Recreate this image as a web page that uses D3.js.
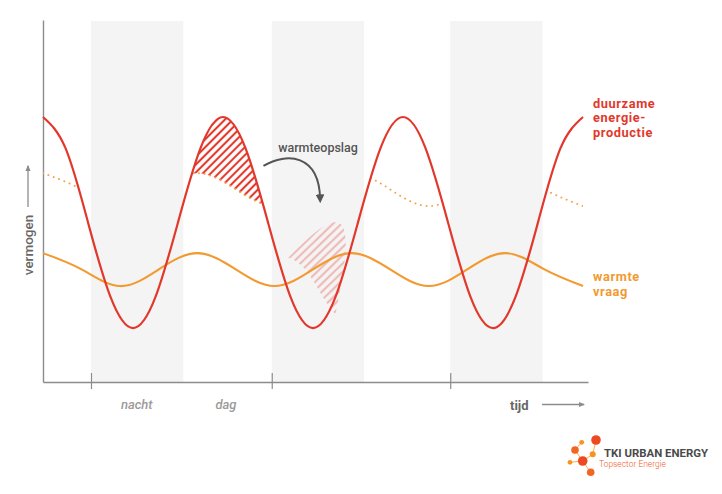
<!DOCTYPE html>
<html><head><meta charset="utf-8">
<script src="https://cdn.jsdelivr.net/npm/d3@7/dist/d3.min.js"></script>
<style>
body{margin:0;background:#fff}
svg{display:block}
text{font-family:Roboto,"Liberation Sans",Arial,sans-serif}
</style>
</head><body>
<svg id="chart" width="722" height="494"></svg>
<script>
// ---------- DATA (time in hours, vermogen in arbitrary units 0-100) ----------
const redTime   = [0,3,6,9,12,15,18,21,24,27,30,33,36,39,42,45,48,51,54,57,60,63,66,69,72];
const redValues = [73.2,64.6,44.1,23.5,14.9,23.5,44.1,64.6,
                   73.2,64.6,44.1,23.5,14.9,23.5,44.1,64.6,
                   73.2,64.6,44.1,23.5,14.9,23.5,44.1,64.6,73.2];

const orangeTime   = [0,5.14,10.29,15.43,20.57,25.71,30.86,36,41.14,46.29,51.43,56.57,61.71,66.86,72];
const orangeValues = [35.6,31.1,26.5,31.1,35.6,31.1,26.5,31.1,35.6,31.1,26.5,31.1,35.6,31.1,26.5];
const dottedValues = [57.7,53.2,48.6,53.2,57.7,53.2,48.6,53.2,57.7,53.2,48.6,53.2,57.7,53.2,48.6];

const nightStart = [6.4,30.5,54.3];
const nightEnd   = [18.7,42.8,66.6];
const tickHours  = [6.4,30.5,54.3];
const periodLabels = ["nacht","dag"];
const periodCenters = [12.5,24.4];

const seriesLabels = [["duurzame","energie-","productie"],["warmte","vraag"]];
const storageLabel = "warmteopslag";
const yLabel = "vermogen";
const xLabel = "tijd";

// ---------- SETUP ----------
const svg = d3.select("#chart");
const x = d3.scaleLinear().domain([0,72]).range([43,583]);
const y = d3.scaleLinear().domain([0,100]).range([382,20]);

const RED = "#e2382c", ORANGE = "#f29a30", AXIS = "#8c8c8c", GREY = "#666";

const redPts = redTime.map((t,i)=>[t,redValues[i]]);
const orPts = orangeTime.map((t,i)=>[t,orangeValues[i]]);
const dotPts = orangeTime.map((t,i)=>[t,dottedValues[i]]);

const line = d3.line().x(d=>x(d[0])).y(d=>y(d[1])).curve(d3.curveNatural);
const belowArea = d3.area().x(d=>x(d[0])).y0(y(-20)).y1(d=>y(d[1])).curve(d3.curveNatural);
const aboveArea = d3.area().x(d=>x(d[0])).y0(y(120)).y1(d=>y(d[1])).curve(d3.curveNatural);

const defs = svg.append("defs");
defs.append("clipPath").attr("id","cBelowRed").append("path").attr("d",belowArea(redPts));
defs.append("clipPath").attr("id","cAboveDot").append("path").attr("d",aboveArea(dotPts));

function hatch(id, rot, color, op, size, w){
  const p = defs.append("pattern").attr("id",id).attr("patternUnits","userSpaceOnUse")
    .attr("width",size).attr("height",size).attr("patternTransform",`rotate(${rot})`);
  p.append("line").attr("x1",size/2).attr("x2",size/2).attr("y1",-1).attr("y2",size+1)
    .attr("stroke",color).attr("stroke-opacity",op).attr("stroke-width",w);
}
hatch("h1",45,RED,1,5.6,2.1);
hatch("h2",19,RED,0.3,6.2,2.3);

// markers
defs.append("marker").attr("id","arrDark").attr("viewBox","0 0 10 10").attr("refX",5).attr("refY",5)
  .attr("markerWidth",4.4).attr("markerHeight",4.4).attr("orient","auto-start-reverse")
  .append("path").attr("d","M0,0 L10,5 L0,10 z").attr("fill","#555");
defs.append("marker").attr("id","arrGrey").attr("viewBox","0 0 10 10").attr("refX",8).attr("refY",5)
  .attr("markerWidth",5).attr("markerHeight",5).attr("orient","auto")
  .append("path").attr("d","M0,1 L10,5 L0,9 z").attr("fill",AXIS);

// ---------- NIGHT BANDS ----------
svg.append("g").selectAll("rect").data(nightStart).join("rect")
  .attr("x",d=>x(d)).attr("width",(d,i)=>x(nightEnd[i])-x(d))
  .attr("y",y(99.7)).attr("height",y(0)-y(99.7)).attr("fill","#f4f4f4");

// ---------- HATCHED SURPLUS ----------
function surplus(g, fill){
  g.append("g").attr("clip-path","url(#cBelowRed)")
   .append("g").attr("clip-path","url(#cAboveDot)")
   .append("rect").attr("x",x(16)).attr("width",x(33)-x(16))
   .attr("y",y(80)).attr("height",y(40)-y(80)).attr("fill",fill);
}
surplus(svg.append("g"), "url(#h1)");
// moved (stored) surplus, drawn as a transformed copy of the same region
const cx0 = x(24.5), cy0 = y(59.2), cx1 = x(37.0), cy1 = y(31.6);
surplus(svg.append("g").attr("transform",`translate(${cx1},${cy1}) rotate(27) scale(0.95) translate(${-cx0},${-cy0})`), "url(#h2)");

// ---------- AXES ----------
const xAxisScale = d3.scaleLinear().domain([0,72.67]).range([43,588]);
const gx = svg.append("g").attr("transform",`translate(0,${y(0)})`)
  .call(d3.axisBottom(xAxisScale).tickValues(tickHours).tickFormat("").tickSizeOuter(0).tickSizeInner(7));
gx.select(".domain").attr("stroke",AXIS).attr("stroke-width",1.4);
gx.selectAll(".tick line").attr("stroke",AXIS).attr("stroke-width",1.2).attr("y1",-9);
const gy = svg.append("g").attr("transform",`translate(${x(0)},0)`)
  .call(d3.axisLeft(y).tickValues([]).tickSizeOuter(0));
gy.select(".domain").attr("stroke",AXIS).attr("stroke-width",1.4);

// ---------- CURVES ----------
svg.append("path").attr("d",line(dotPts)).attr("clip-path","url(#cBelowRed)")
  .attr("fill","none").attr("stroke","#f2a548").attr("stroke-width",1.9)
  .attr("stroke-linecap","round").attr("stroke-dasharray","0.1 5.6");
svg.append("path").attr("d",line(orPts)).attr("fill","none").attr("stroke",ORANGE).attr("stroke-width",2.1);
svg.append("path").attr("d",line(redPts)).attr("fill","none").attr("stroke",RED).attr("stroke-width",2.2);

// ---------- ANNOTATIONS ----------
svg.append("text").attr("x",x(31.35)).attr("y",y(63.5)).attr("font-size",12.5).attr("font-weight",500)
  .attr("fill","#555").text(storageLabel);
svg.append("path")
  .attr("d",`M${x(29.4)},${y(59.7)} C${x(32.5)},${y(63.5)} ${x(36.8)},${y(63)} ${x(36.95)},${y(50.6)}`)
  .attr("fill","none").attr("stroke","#555").attr("stroke-width",2).attr("marker-end","url(#arrDark)");

// series labels at the right
seriesLabels.forEach((lines,k)=>{
  const base = k===0 ? 107.5 : 281;
  lines.forEach((s,i)=>svg.append("text").attr("x",593).attr("y",base+i*14.6)
    .attr("font-size",12.8).attr("font-weight",700).attr("letter-spacing",0.6)
    .attr("fill",k===0?RED:ORANGE).text(s));
});

// period labels
svg.append("g").selectAll("text").data(periodLabels).join("text")
  .attr("x",(d,i)=>x(periodCenters[i])).attr("y",409).attr("text-anchor","middle")
  .attr("font-size",13).attr("font-style","italic").attr("font-weight",500).attr("fill","#9a9a9a").text(d=>d);

// x label + arrow
svg.append("text").attr("x",510).attr("y",410).attr("font-size",13).attr("font-weight",700)
  .attr("fill",GREY).text(xLabel);
svg.append("line").attr("x1",542).attr("x2",584).attr("y1",404.5).attr("y2",404.5)
  .attr("stroke",AXIS).attr("stroke-width",1.3).attr("marker-end","url(#arrGrey)");

// y label + arrow
svg.append("text").attr("transform","translate(33,245) rotate(-90)").attr("text-anchor","middle")
  .attr("font-size",13.5).attr("font-weight",500).attr("fill",GREY).text(yLabel);
svg.append("line").attr("x1",28).attr("x2",28).attr("y1",207).attr("y2",166)
  .attr("stroke",AXIS).attr("stroke-width",1.3).attr("marker-end","url(#arrGrey)");

// ---------- LOGO ----------
const logoDots = [[596,440,4.8,"#ee4a22"],[581.7,442.3,2.4,"#f7931e"],[575,450,3.8,"#f26522"],
                  [592.7,454.3,3.0,"#f7931e"],[582.7,461,4.8,"#ee4a22"],[570,462.3,2.4,"#f7931e"],
                  [590.7,472.3,3.8,"#f26522"]];
const logoLinks = [[2,4],[4,6],[4,3],[3,0],[1,2],[5,4]];
const lg = svg.append("g");
lg.selectAll("line").data(logoLinks).join("line")
  .attr("x1",d=>logoDots[d[0]][0]).attr("y1",d=>logoDots[d[0]][1])
  .attr("x2",d=>logoDots[d[1]][0]).attr("y2",d=>logoDots[d[1]][1])
  .attr("stroke","#f9b04a").attr("stroke-width",1);
lg.selectAll("circle").data(logoDots).join("circle")
  .attr("cx",d=>d[0]).attr("cy",d=>d[1]).attr("r",d=>d[2]).attr("fill",d=>d[3]);
lg.append("text").attr("x",604).attr("y",457).attr("font-size",11.5).attr("font-weight",700)
  .attr("fill","#4a4a4a").attr("textLength",104).attr("lengthAdjust","spacingAndGlyphs").text("TKI URBAN ENERGY");
lg.append("text").attr("x",599).attr("y",467).attr("font-size",9).attr("font-weight",300)
  .attr("fill","#ef5a2a").attr("textLength",67).attr("lengthAdjust","spacingAndGlyphs").text("Topsector Energie");
</script>
</body></html>
